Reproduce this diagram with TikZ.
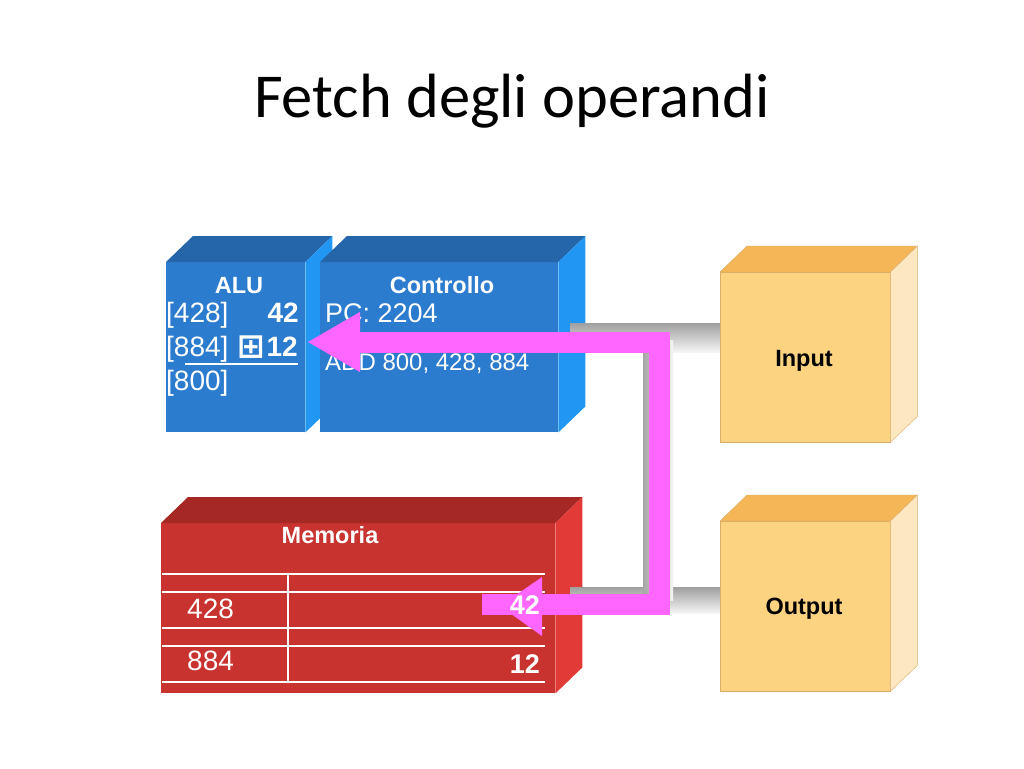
\documentclass[tikz,border=0pt]{standalone}
\usepackage{fontspec}
\setmainfont{Liberation Sans}
\newfontfamily\titlefont{Carlito}
\newfontfamily\symfont{DejaVu Sans}
\usetikzlibrary{arrows.meta}

\definecolor{alufront}{HTML}{2B7BCE}
\definecolor{alutop}{HTML}{2565A9}
\definecolor{aluside}{HTML}{2196F3}
\definecolor{memfront}{HTML}{C9332F}
\definecolor{memtop}{HTML}{A52824}
\definecolor{memside}{HTML}{E23B37}
\definecolor{iofront}{HTML}{FCD380}
\definecolor{iotop}{HTML}{F4B657}
\definecolor{ioside}{HTML}{FDE7C0}
\definecolor{ioedge}{HTML}{D9AE6A}
\definecolor{flow}{HTML}{FF66FF}

% top and right faces of a block, behind its front node
\newcommand{\blockfaces}[4]{%
  \fill[#2,#4] (#1.north west) -- ++(27,-26) -- ([shift={(27,-26)}]#1.north east) -- (#1.north east) -- cycle;
  \fill[#3,#4] (#1.north east) -- ++(27,-26) -- ([shift={(27,-26)}]#1.south east) -- (#1.south east) -- cycle;}

\begin{document}
\begin{tikzpicture}
  [x=1pt,y=-1pt,
   front/.style={rectangle,inner sep=0pt,anchor=north west},
   head/.style={font=\bfseries\fontsize{23.5}{26}\selectfont},
   cell/.style={font=\fontsize{28}{32}\selectfont,text=white,inner sep=0pt},
   bus/.style={top color=gray!75,bottom color=gray!8},
   flowline/.style={draw=flow,line width=21pt,line join=miter}]
  \useasboundingbox (0,0) rectangle (1024,768);

  \node[anchor=base,font=\titlefont\fontsize{62.5}{72}\selectfont] (title) at (512,117) {Fetch degli operandi};

  % CPU: ALU and Controllo
  \node[front,fill=alufront,minimum width=139pt,minimum height=170pt] (alu) at (166,262) {};
  \blockfaces{alu}{alutop}{aluside}{}
  \node[front,fill=alufront,minimum width=238pt,minimum height=170pt] (ctrl) at (320,262) {};
  \blockfaces{ctrl}{alutop}{aluside}{}

  \node[head,text=white,anchor=base] (alulabel) at (239,293) {ALU};
  \node[head,text=white,anchor=base] (ctrllabel) at (442,293) {Controllo};

  \node[cell,anchor=base west] (r1) at (166,322) {[428]};
  \node[cell,anchor=base west] (r2) at (166,356) {[884]};
  \node[cell,anchor=base west] (r3) at (166,390) {[800]};
  \node[cell,anchor=base east,font=\bfseries\fontsize{28}{32}\selectfont] (v1) at (299,322) {42};
  \node[cell,anchor=base east,font=\bfseries\fontsize{28}{32}\selectfont] (v2) at (298,356) {12};
  \node[cell,anchor=base east,font=\symfont\bfseries\fontsize{33}{36}\selectfont] (plus) at (265,357) {⊞};
  \draw[white,line width=2pt] (185,364) -- (298,364);

  \node[cell,anchor=base west,font=\fontsize{27}{32}\selectfont] (pc) at (325,322) {PC: 2204};
  \node[cell,anchor=base west,font=\fontsize{24}{28}\selectfont] (instr) at (325,370) {ADD 800, 428, 884};

  % Memoria
  \node[front,fill=memfront,minimum width=394pt,minimum height=170pt] (mem) at (161,523) {};
  \blockfaces{mem}{memtop}{memside}{}
  \node[head,text=white,anchor=base] (memlabel) at (330,543) {Memoria};
  \foreach \y in {574,592,628,646,682}
    \draw[white,line width=2pt] (162,\y) -- (545,\y);
  \draw[white,line width=2pt] (288,574) -- (288,682);
  \node[cell,anchor=base west] (a1) at (187,618) {428};
  \node[cell,anchor=base west] (a2) at (187,670) {884};
  \node[cell,anchor=base east,font=\bfseries\fontsize{27}{32}\selectfont] (m2) at (540,673) {12};

  % bus
  \shade[bus] (570,323) rectangle (720,352);
  \shade[bus] (570,587) rectangle (720,613);
  \shade[left color=gray!70,right color=gray!8] (643,340) rectangle (673,600);

  % Input / Output
  \node[front,fill=iofront,draw=ioedge,minimum width=170pt,minimum height=170pt] (inp) at (720,272) {};
  \blockfaces{inp}{iotop}{ioside}{draw=ioedge}
  \node[head,anchor=base] (inplabel) at (804,366) {Input};
  \node[front,fill=iofront,draw=ioedge,minimum width=170pt,minimum height=170pt] (outp) at (720,521) {};
  \blockfaces{outp}{iotop}{ioside}{draw=ioedge}
  \node[head,anchor=base] (outplabel) at (804,614) {Output};

  % operand flow
  \coordinate (memtail) at (482,604);
  \coordinate (bendlow) at (659,604);
  \coordinate (bendhigh) at (659,342);
  \coordinate (aluin) at (307,342);
  \coordinate (memhead) at (500,606);
  \draw[flowline,-{Triangle[length=53pt,width=56pt]}] (memtail) -- (bendlow) -- (bendhigh) -- (aluin);
  \fill[flow] (memhead) -- ++(42,-29) -- ++(0,59) -- cycle;

  \node[cell,anchor=base east,font=\bfseries\fontsize{27}{32}\selectfont] (m1) at (540,614) {42};
\end{tikzpicture}
\end{document}
